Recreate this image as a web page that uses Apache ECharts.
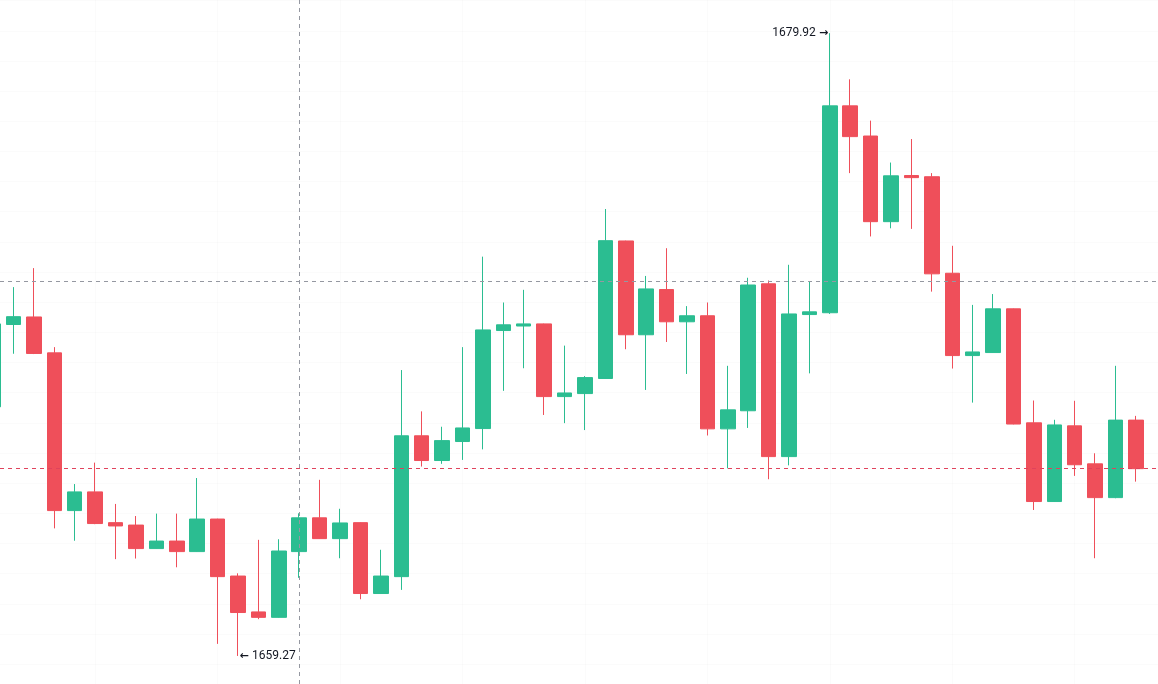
<!DOCTYPE html>
<html>
<head>
<meta charset="utf-8">
<script src="https://cdn.jsdelivr.net/npm/echarts@6/dist/echarts.min.js"></script>
<style>
html,body{margin:0;padding:0;background:#ffffff;}
#chart{width:1158px;height:684px;}
</style>
</head>
<body>
<div id="chart"></div>
<script>
const openPrices = [1667.53,1670.26,1670.51,1669.32,1664.09,1664.71,1663.69,1663.61,1662.83,1663.08,1662.73,1663.81,
  1661.92,1660.73,1660.55,1662.73,1663.85,1663.16,1663.69,1661.34,1661.90,1666.57,1665.75,1666.38,
  1666.81,1670.06,1670.21,1670.28,1667.87,1667.97,1668.47,1673.03,1669.92,1671.42,1670.35,1670.55,
  1666.80,1667.40,1671.61,1665.88,1670.59,1670.65,1677.51,1676.51,1673.67,1675.20,1675.16,1671.96,
  1669.23,1669.33,1670.78,1667.00,1664.39,1666.90,1665.64,1664.52,1667.09];

const closePrices = [1670.28,1670.52,1669.30,1664.09,1664.71,1663.66,1663.58,1662.83,1663.08,1662.73,1663.81,1661.90,
  1660.71,1660.55,1662.75,1663.85,1663.16,1663.68,1661.34,1661.92,1666.57,1665.75,1666.41,1666.83,
  1670.08,1670.25,1670.28,1667.87,1667.99,1668.50,1673.04,1669.92,1671.44,1670.35,1670.55,1666.80,
  1667.43,1671.57,1665.88,1670.61,1670.68,1677.51,1676.49,1673.67,1675.19,1675.13,1671.94,1669.23,
  1669.35,1670.78,1666.96,1664.39,1666.93,1665.61,1664.52,1667.09,1665.48];

const lowPrices = [1667.36,1669.29,1669.28,1663.50,1663.09,1663.64,1662.48,1662.50,1662.82,1662.21,1662.72,1659.67,
  1659.27,1660.49,1660.54,1661.86,1663.15,1662.51,1661.15,1661.33,1661.46,1665.55,1665.64,1665.77,
  1666.12,1668.06,1668.81,1667.26,1666.99,1666.76,1668.46,1669.44,1668.09,1669.68,1668.62,1666.58,
  1665.49,1666.83,1665.13,1665.59,1668.64,1670.61,1675.28,1673.18,1673.45,1673.43,1671.35,1668.80,
  1667.67,1669.32,1666.95,1664.11,1664.38,1665.24,1662.51,1664.50,1665.05];

const highPrices = [1670.48,1671.50,1672.13,1669.51,1664.97,1665.68,1664.31,1663.91,1663.99,1663.99,1665.17,1663.82,
  1662.01,1663.12,1663.14,1664.00,1665.11,1664.15,1663.70,1662.79,1668.75,1667.38,1666.87,1669.51,
  1672.51,1670.99,1671.41,1670.29,1669.56,1668.55,1674.09,1673.04,1671.87,1672.79,1670.87,1670.99,
  1668.89,1671.81,1671.72,1672.24,1671.68,1679.92,1678.39,1677.02,1675.63,1676.41,1675.28,1672.87,
  1670.91,1671.27,1670.79,1667.74,1667.10,1667.73,1665.99,1668.89,1667.23];

// faint background grid levels (price grid every 1.00, time grid every 6 bars)
const priceGridLevels = [1659,1660,1661,1662,1663,1664,1665,1666,1667,1668,1669,1670,1671,1672,1673,1674,1675,1676,1677,1678,1679,1680,1681];
const timeGridBars = [5,11,17,23,29,35,41,47,53];

const crosshairBar = 15;
const crosshairPrice = 1671.71;

const upColor = '#2bbd91';
const downColor = '#ef4f5a';
const gridColor = 'rgba(42,46,57,0.018)';

const candleData = openPrices.map((o, i) => [i, o, closePrices[i], lowPrices[i], highPrices[i]]);

let maxIdx = 0, minIdx = 0;
highPrices.forEach((h, i) => { if (h > highPrices[maxIdx]) maxIdx = i; });
lowPrices.forEach((l, i) => { if (l < lowPrices[minIdx]) minIdx = i; });
const lastClose = closePrices[closePrices.length - 1];

const gridLineData = priceGridLevels.map(v => ({yAxis: v})).concat(timeGridBars.map(v => ({xAxis: v})));

const labelRich = {
  t: {color: '#131722', fontSize: 12, fontFamily: 'Roboto'},
  a: {color: '#131722', fontSize: 11, fontFamily: 'DejaVu Sans', fontWeight: 'bold'}
};

const chart = echarts.init(document.getElementById('chart'), null, {renderer: 'canvas'});
chart.setOption({
  animation: false,
  backgroundColor: '#ffffff',
  grid: {left: 0, right: 0, top: 0, bottom: 0, containLabel: false},
  xAxis: {
    type: 'value',
    min: 0.338,
    max: 57.08,
    axisLine: {show: false},
    axisTick: {show: false},
    axisLabel: {show: false},
    splitLine: {show: false}
  },
  yAxis: {
    type: 'value',
    min: 1658.34,
    max: 1681.02,
    scale: true,
    axisLine: {show: false},
    axisTick: {show: false},
    axisLabel: {show: false},
    splitLine: {show: false}
  },
  series: [{
    type: 'line',
    data: [],
    z: 0,
    markLine: {
      silent: true,
      z: 0,
      symbol: ['none', 'none'],
      label: {show: false},
      animation: false,
      lineStyle: {color: gridColor, type: 'solid', width: 1},
      data: gridLineData
    }
  }, {
    type: 'candlestick',
    data: candleData,
    encode: {x: 0, y: [1, 2, 3, 4]},
    barWidth: 15,
    z: 2,
    itemStyle: {
      color: upColor,
      color0: downColor,
      borderColor: upColor,
      borderColor0: downColor,
      borderWidth: 1
    },
    markLine: {
      silent: true,
      symbol: ['none', 'none'],
      label: {show: false},
      animation: false,
      data: [
        {xAxis: crosshairBar, lineStyle: {color: '#9598a1', type: [4, 4], width: 1}},
        {yAxis: crosshairPrice, lineStyle: {color: '#9598a1', type: [4, 4], width: 1}},
        {yAxis: lastClose, lineStyle: {color: '#e0435c', type: [4, 4], width: 1}}
      ]
    },
    markPoint: {
      silent: true,
      symbol: 'circle',
      symbolSize: 1,
      itemStyle: {color: 'rgba(0,0,0,0)'},
      animation: false,
      data: [
        {
          coord: [maxIdx, highPrices[maxIdx]],
          label: {
            show: true, position: 'left', distance: 1,
            formatter: '{t|' + highPrices[maxIdx].toFixed(2) + '} {a|\u2192}',
            rich: labelRich
          }
        },
        {
          coord: [minIdx, lowPrices[minIdx]],
          label: {
            show: true, position: 'right', distance: 1,
            formatter: '{a|\u2190} {t|' + lowPrices[minIdx].toFixed(2) + '}',
            rich: labelRich
          }
        }
      ]
    }
  }]
});
</script>
</body>
</html>
